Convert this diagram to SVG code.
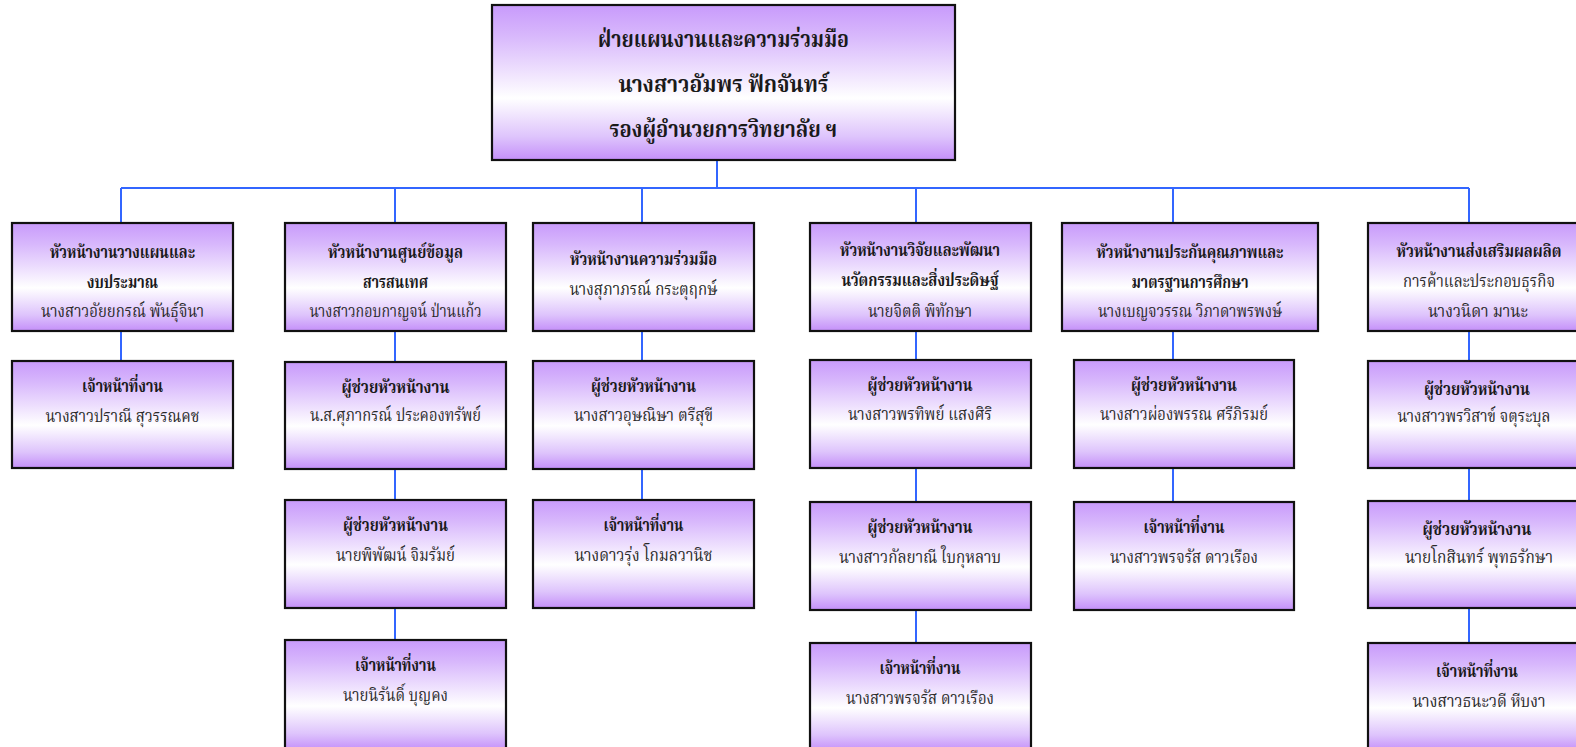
<svg xmlns="http://www.w3.org/2000/svg" width="1576" height="747" viewBox="0 0 1576 747">
<defs>
<linearGradient id="g" x1="0" y1="0" x2="0" y2="1">
<stop offset="0" stop-color="#C89AFB"/>
<stop offset="0.2" stop-color="#D8B8FC"/>
<stop offset="0.6" stop-color="#FFFFFF"/>
<stop offset="0.85" stop-color="#DEC4FC"/>
<stop offset="1" stop-color="#C48FF9"/>
</linearGradient>
</defs>
<style>
rect.b{fill:url(#g);stroke:#111;stroke-width:2.2}
text{font-family:"Noto Serif Thai","Noto Sans Thai Looped","Noto Sans Thai","Noto Sans","DejaVu Sans",sans-serif;text-anchor:middle}
.h{font-weight:bold;font-size:17px;fill:#1a1a1a}
.n{font-size:17px;fill:#2a2a2a}
.t{font-weight:bold;font-size:23px;fill:#1a1a1a}
#connectors path{stroke:#3366FF;stroke-width:2;fill:none}
</style>
<g id="connectors">
<path d="M717 160V188M121 188H1469M121 188V223M395 188V223M642 188V223M916 188V223M1173 188V223M1469 188V223"/>
<path d="M121 331V361"/>
<path d="M395 331V362M395 469V500M395 608V640"/>
<path d="M642 331V361M642 469V500"/>
<path d="M916 331V360M916 468V502M916 610V643"/>
<path d="M1173 331V360M1173 468V502"/>
<path d="M1469 331V361M1469 468V501M1469 608V643"/>
</g>
<g id="top">
<rect class="b" x="492" y="5" width="463" height="155"/>
<text class="t" x="723.5" y="47" textLength="251" lengthAdjust="spacingAndGlyphs">ฝ่ายแผนงานและความร่วมมือ</text>
<text class="t" x="723.5" y="92" textLength="210" lengthAdjust="spacingAndGlyphs">นางสาวอัมพร  ฟักจันทร์</text>
<text class="t" x="723.5" y="137" textLength="228" lengthAdjust="spacingAndGlyphs">รองผู้อำนวยการวิทยาลัย ฯ</text>
</g>
<g id="c1r1">
<rect class="b" x="12" y="223" width="221" height="108"/>
<text class="h" x="122.5" y="258" textLength="145" lengthAdjust="spacingAndGlyphs">หัวหน้างานวางแผนและ</text>
<text class="h" x="122.5" y="288" textLength="71" lengthAdjust="spacingAndGlyphs">งบประมาณ</text>
<text class="n" x="122.5" y="317" textLength="163" lengthAdjust="spacingAndGlyphs">นางสาวอัยยกรณ์ พันธุ์จินา</text>
</g>
<g id="c1r2">
<rect class="b" x="12" y="361" width="221" height="107"/>
<text class="h" x="122.5" y="392" textLength="81" lengthAdjust="spacingAndGlyphs">เจ้าหน้าที่งาน</text>
<text class="n" x="122.5" y="422" textLength="154" lengthAdjust="spacingAndGlyphs">นางสาวปราณี สุวรรณคช</text>
</g>
<g id="c2r1">
<rect class="b" x="285" y="223" width="221" height="108"/>
<text class="h" x="395.5" y="258" textLength="135" lengthAdjust="spacingAndGlyphs">หัวหน้างานศูนย์ข้อมูล</text>
<text class="h" x="395.5" y="288" textLength="65" lengthAdjust="spacingAndGlyphs">สารสนเทศ</text>
<text class="n" x="395.5" y="317" textLength="172" lengthAdjust="spacingAndGlyphs">นางสาวกอบกาญจน์ ป่านแก้ว</text>
</g>
<g id="c2r2">
<rect class="b" x="285" y="362" width="221" height="107"/>
<text class="h" x="395.5" y="393" textLength="108" lengthAdjust="spacingAndGlyphs">ผู้ช่วยหัวหน้างาน</text>
<text class="n" x="395.5" y="421" textLength="171" lengthAdjust="spacingAndGlyphs">น.ส.ศุภากรณ์ ประคองทรัพย์</text>
</g>
<g id="c2r3">
<rect class="b" x="285" y="500" width="221" height="108"/>
<text class="h" x="395.5" y="531" textLength="105" lengthAdjust="spacingAndGlyphs">ผู้ช่วยหัวหน้างาน</text>
<text class="n" x="395.5" y="561" textLength="119" lengthAdjust="spacingAndGlyphs">นายพิพัฒน์ จิมรัมย์</text>
</g>
<g id="c2r4">
<rect class="b" x="285" y="640" width="221" height="110"/>
<text class="h" x="395.5" y="671" textLength="81" lengthAdjust="spacingAndGlyphs">เจ้าหน้าที่งาน</text>
<text class="n" x="395.5" y="701" textLength="105" lengthAdjust="spacingAndGlyphs">นายนิรันดิ์ บุญคง</text>
</g>
<g id="c3r1">
<rect class="b" x="533" y="223" width="221" height="108"/>
<text class="h" x="643.5" y="265" textLength="147" lengthAdjust="spacingAndGlyphs">หัวหน้างานความร่วมมือ</text>
<text class="n" x="643.5" y="295" textLength="148" lengthAdjust="spacingAndGlyphs">นางสุภาภรณ์ กระตุฤกษ์</text>
</g>
<g id="c3r2">
<rect class="b" x="533" y="361" width="221" height="108"/>
<text class="h" x="643.5" y="392" textLength="105" lengthAdjust="spacingAndGlyphs">ผู้ช่วยหัวหน้างาน</text>
<text class="n" x="643.5" y="421" textLength="139" lengthAdjust="spacingAndGlyphs">นางสาวอุษณิษา ตรีสุขี</text>
</g>
<g id="c3r3">
<rect class="b" x="533" y="500" width="221" height="108"/>
<text class="h" x="643.5" y="531" textLength="80" lengthAdjust="spacingAndGlyphs">เจ้าหน้าที่งาน</text>
<text class="n" x="643.5" y="561" textLength="138" lengthAdjust="spacingAndGlyphs">นางดาวรุ่ง  โกมลวานิช</text>
</g>
<g id="c4r1">
<rect class="b" x="810" y="223" width="221" height="108"/>
<text class="h" x="920" y="256" textLength="160" lengthAdjust="spacingAndGlyphs">หัวหน้างานวิจัยและพัฒนา</text>
<text class="h" x="920" y="286" textLength="157" lengthAdjust="spacingAndGlyphs">นวัตกรรมและสิ่งประดิษฐ์</text>
<text class="n" x="920" y="317" textLength="104" lengthAdjust="spacingAndGlyphs">นายจิตติ  พิทักษา</text>
</g>
<g id="c4r2">
<rect class="b" x="810" y="360" width="221" height="108"/>
<text class="h" x="920" y="391" textLength="105" lengthAdjust="spacingAndGlyphs">ผู้ช่วยหัวหน้างาน</text>
<text class="n" x="920" y="420" textLength="144" lengthAdjust="spacingAndGlyphs">นางสาวพรทิพย์ แสงศิริ</text>
</g>
<g id="c4r3">
<rect class="b" x="810" y="502" width="221" height="108"/>
<text class="h" x="920" y="533" textLength="105" lengthAdjust="spacingAndGlyphs">ผู้ช่วยหัวหน้างาน</text>
<text class="n" x="920" y="563" textLength="162" lengthAdjust="spacingAndGlyphs">นางสาวกัลยาณี ใบกุหลาบ</text>
</g>
<g id="c4r4">
<rect class="b" x="810" y="643" width="221" height="108"/>
<text class="h" x="920" y="674" textLength="81" lengthAdjust="spacingAndGlyphs">เจ้าหน้าที่งาน</text>
<text class="n" x="920" y="704" textLength="148" lengthAdjust="spacingAndGlyphs">นางสาวพรจรัส ดาวเรือง</text>
</g>
<g id="c5r1">
<rect class="b" x="1062" y="223" width="256" height="108"/>
<text class="h" x="1190" y="258" textLength="187" lengthAdjust="spacingAndGlyphs">หัวหน้างานประกันคุณภาพและ</text>
<text class="h" x="1190" y="288" textLength="117" lengthAdjust="spacingAndGlyphs">มาตรฐานการศึกษา</text>
<text class="n" x="1190" y="317" textLength="184" lengthAdjust="spacingAndGlyphs">นางเบญจวรรณ วิภาดาพรพงษ์</text>
</g>
<g id="c5r2">
<rect class="b" x="1074" y="360" width="220" height="108"/>
<text class="h" x="1184" y="391" textLength="106" lengthAdjust="spacingAndGlyphs">ผู้ช่วยหัวหน้างาน</text>
<text class="n" x="1184" y="420" textLength="168" lengthAdjust="spacingAndGlyphs">นางสาวผ่องพรรณ ศรีภิรมย์</text>
</g>
<g id="c5r3">
<rect class="b" x="1074" y="502" width="220" height="108"/>
<text class="h" x="1184" y="533" textLength="81" lengthAdjust="spacingAndGlyphs">เจ้าหน้าที่งาน</text>
<text class="n" x="1184" y="563" textLength="148" lengthAdjust="spacingAndGlyphs">นางสาวพรจรัส ดาวเรือง</text>
</g>
<g id="c6r1">
<rect class="b" x="1368" y="223" width="221" height="108"/>
<text class="h" x="1479" y="257" textLength="165" lengthAdjust="spacingAndGlyphs">หัวหน้างานส่งเสริมผลผลิต</text>
<text class="n" x="1479" y="287" textLength="152" lengthAdjust="spacingAndGlyphs">การค้าและประกอบธุรกิจ</text>
<text class="n" x="1478" y="317" textLength="100" lengthAdjust="spacingAndGlyphs">นางวนิดา มานะ</text>
</g>
<g id="c6r2">
<rect class="b" x="1368" y="361" width="221" height="107"/>
<text class="h" x="1477" y="395" textLength="106" lengthAdjust="spacingAndGlyphs">ผู้ช่วยหัวหน้างาน</text>
<text class="n" x="1474" y="422" textLength="153" lengthAdjust="spacingAndGlyphs">นางสาวพรวิสาข์ จตุระบุล</text>
</g>
<g id="c6r3">
<rect class="b" x="1368" y="501" width="221" height="107"/>
<text class="h" x="1477" y="535" textLength="109" lengthAdjust="spacingAndGlyphs">ผู้ช่วยหัวหน้างาน</text>
<text class="n" x="1479" y="563" textLength="148" lengthAdjust="spacingAndGlyphs">นายโกสินทร์ พุทธรักษา</text>
</g>
<g id="c6r4">
<rect class="b" x="1368" y="643" width="221" height="108"/>
<text class="h" x="1477" y="677" textLength="82" lengthAdjust="spacingAndGlyphs">เจ้าหน้าที่งาน</text>
<text class="n" x="1479" y="707" textLength="133" lengthAdjust="spacingAndGlyphs">นางสาวธนะวดี หีบงา</text>
</g>
</svg>
